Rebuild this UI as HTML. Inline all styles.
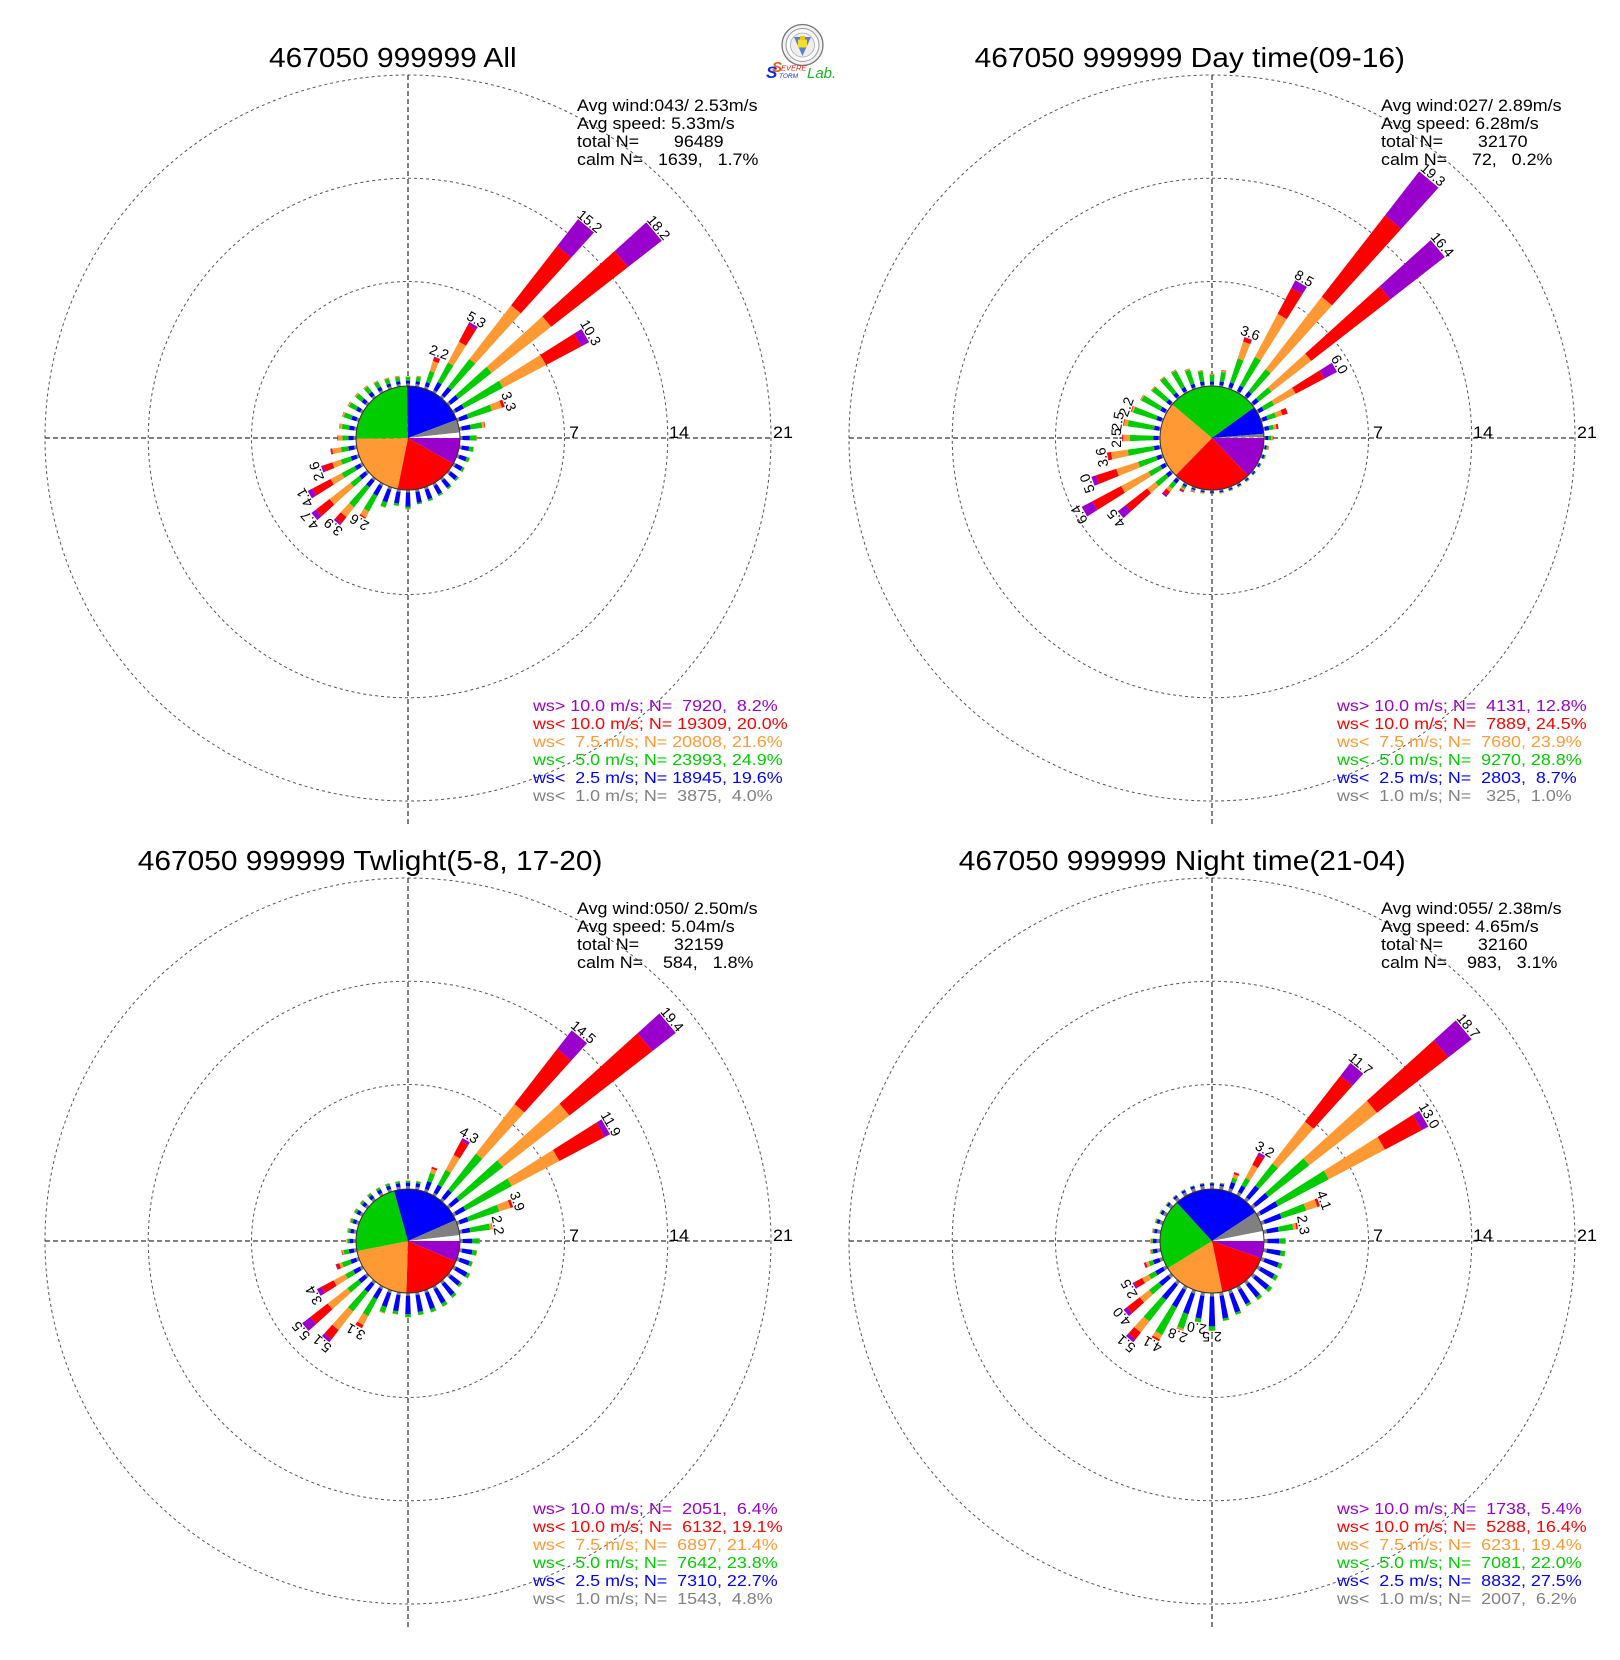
<!DOCTYPE html>
<html><head><meta charset="utf-8">
<style>
html,body{margin:0;padding:0;background:#fff;}
svg{display:block;font-family:"Liberation Sans",Arial,sans-serif;}
.lab{font-size:14px;text-anchor:middle;fill:#000;}
.ttl{font-size:28px;fill:#000;}
.st{font-size:16.8px;fill:#000;white-space:pre;}
.lg{font-size:15.5px;white-space:pre;}
.ax{font-size:16.8px;fill:#000;}
</style></head>
<body>
<svg id="s" width="1620" height="1660" viewBox="0 0 1620 1660" xmlns="http://www.w3.org/2000/svg">
<defs>
<g id="grid">
<circle cx="0" cy="0" r="156.5" fill="none" stroke="#555" stroke-width="1" stroke-dasharray="3,3"/>
<circle cx="0" cy="0" r="259.75" fill="none" stroke="#555" stroke-width="1" stroke-dasharray="3,3"/>
<circle cx="0" cy="0" r="363" fill="none" stroke="#555" stroke-width="1" stroke-dasharray="3,3"/>
<line x1="-363" y1="0" x2="363" y2="0" stroke="#000" stroke-width="1" stroke-dasharray="5,3"/>
<line x1="0" y1="-363" x2="0" y2="388" stroke="#000" stroke-width="1" stroke-dasharray="5,3"/>
</g>
</defs>
<rect width="1620" height="1660" fill="#fff"/>
<use href="#grid" x="408" y="438"/>
<use href="#grid" x="1212" y="438"/>
<use href="#grid" x="408" y="1241"/>
<use href="#grid" x="1212" y="1241"/>
<g id="bars"></g>
<g id="pies"></g>

<!-- Titles -->
<text class="ttl" transform="translate(269,67) scale(1.068,1)">467050 999999 All</text>
<text class="ttl" transform="translate(974.6,67) scale(1.068,1)">467050 999999 Day time(09-16)</text>
<text class="ttl" transform="translate(137.7,870) scale(1.068,1)">467050 999999 Twlight(5-8, 17-20)</text>
<text class="ttl" transform="translate(958.7,870) scale(1.068,1)">467050 999999 Night time(21-04)</text>

<!-- Logo -->
<g>
<circle cx="802.5" cy="45" r="20.5" fill="#f2f2f2" stroke="#777" stroke-width="1.3"/>
<circle cx="802.5" cy="45" r="16.5" fill="#fafafa" stroke="#999" stroke-width="1"/>
<circle cx="802.5" cy="45" r="12" fill="#eeeeee" stroke="#aaa" stroke-width=".8"/>
<polygon points="794,37 811,37 802.5,56" fill="#5a7fd0"/>
<rect x="798" y="39.5" width="9" height="8" fill="#f3de2a"/>
<rect x="800" y="36" width="5" height="4" fill="#e8c820"/>
</g>
<text x="766" y="78" font-size="17" font-style="italic" font-weight="bold" fill="#1030e0">S</text>
<text x="772" y="72" font-size="15" font-style="italic" font-weight="bold" fill="#f05a1a">S</text>
<text x="781" y="70.5" font-size="7.5" font-style="italic" fill="#e02010">EVERE</text>
<text x="779" y="78" font-size="6.5" font-style="italic" fill="#1030e0">TORM</text>
<text x="807" y="78" font-size="15" font-style="italic" fill="#20b020">Lab.</text>

<!-- Stats -->
<g>
<text class="st" transform="translate(577,111) scale(1.065,1)">Avg wind:043/ 2.53m/s</text>
<text class="st" transform="translate(577,129) scale(1.065,1)">Avg speed: 5.33m/s</text>
<text class="st" transform="translate(577,147) scale(1.065,1)">total N=       96489</text>
<text class="st" transform="translate(577,165) scale(1.065,1)">calm N=   1639,   1.7%</text>

<text class="st" transform="translate(1381,111) scale(1.065,1)">Avg wind:027/ 2.89m/s</text>
<text class="st" transform="translate(1381,129) scale(1.065,1)">Avg speed: 6.28m/s</text>
<text class="st" transform="translate(1381,147) scale(1.065,1)">total N=       32170</text>
<text class="st" transform="translate(1381,165) scale(1.065,1)">calm N=     72,   0.2%</text>

<text class="st" transform="translate(577,914) scale(1.065,1)">Avg wind:050/ 2.50m/s</text>
<text class="st" transform="translate(577,932) scale(1.065,1)">Avg speed: 5.04m/s</text>
<text class="st" transform="translate(577,950) scale(1.065,1)">total N=       32159</text>
<text class="st" transform="translate(577,968) scale(1.065,1)">calm N=    584,   1.8%</text>

<text class="st" transform="translate(1381,914) scale(1.065,1)">Avg wind:055/ 2.38m/s</text>
<text class="st" transform="translate(1381,932) scale(1.065,1)">Avg speed: 4.65m/s</text>
<text class="st" transform="translate(1381,950) scale(1.065,1)">total N=       32160</text>
<text class="st" transform="translate(1381,968) scale(1.065,1)">calm N=    983,   3.1%</text>
</g>

<!-- Axis labels -->
<g class="ax">
<text class="ax" transform="translate(569,438) scale(1.065,1)">7</text>
<text class="ax" transform="translate(669,438) scale(1.065,1)">14</text>
<text class="ax" transform="translate(773,438) scale(1.065,1)">21</text>
<text class="ax" transform="translate(1373,438) scale(1.065,1)">7</text>
<text class="ax" transform="translate(1473,438) scale(1.065,1)">14</text>
<text class="ax" transform="translate(1577,438) scale(1.065,1)">21</text>
<text class="ax" transform="translate(569,1241) scale(1.065,1)">7</text>
<text class="ax" transform="translate(669,1241) scale(1.065,1)">14</text>
<text class="ax" transform="translate(773,1241) scale(1.065,1)">21</text>
<text class="ax" transform="translate(1373,1241) scale(1.065,1)">7</text>
<text class="ax" transform="translate(1473,1241) scale(1.065,1)">14</text>
<text class="ax" transform="translate(1577,1241) scale(1.065,1)">21</text>
</g>

<!-- Legends -->
<g>
<text class="lg" fill="#9900cc" transform="translate(533,711) scale(1.155,1)">ws&gt; 10.0 m/s; N=  7920,  8.2%</text>
<text class="lg" fill="#ff0000" transform="translate(533,729) scale(1.155,1)">ws&lt; 10.0 m/s; N= 19309, 20.0%</text>
<text class="lg" fill="#ff9933" transform="translate(533,747) scale(1.155,1)">ws&lt;  7.5 m/s; N= 20808, 21.6%</text>
<text class="lg" fill="#00cc00" transform="translate(533,765) scale(1.155,1)">ws&lt;  5.0 m/s; N= 23993, 24.9%</text>
<text class="lg" fill="#0000ff" transform="translate(533,783) scale(1.155,1)">ws&lt;  2.5 m/s; N= 18945, 19.6%</text>
<text class="lg" fill="#808080" transform="translate(533,801) scale(1.155,1)">ws&lt;  1.0 m/s; N=  3875,  4.0%</text>

<text class="lg" fill="#9900cc" transform="translate(1337,711) scale(1.155,1)">ws&gt; 10.0 m/s; N=  4131, 12.8%</text>
<text class="lg" fill="#ff0000" transform="translate(1337,729) scale(1.155,1)">ws&lt; 10.0 m/s; N=  7889, 24.5%</text>
<text class="lg" fill="#ff9933" transform="translate(1337,747) scale(1.155,1)">ws&lt;  7.5 m/s; N=  7680, 23.9%</text>
<text class="lg" fill="#00cc00" transform="translate(1337,765) scale(1.155,1)">ws&lt;  5.0 m/s; N=  9270, 28.8%</text>
<text class="lg" fill="#0000ff" transform="translate(1337,783) scale(1.155,1)">ws&lt;  2.5 m/s; N=  2803,  8.7%</text>
<text class="lg" fill="#808080" transform="translate(1337,801) scale(1.155,1)">ws&lt;  1.0 m/s; N=   325,  1.0%</text>

<text class="lg" fill="#9900cc" transform="translate(533,1514) scale(1.155,1)">ws&gt; 10.0 m/s; N=  2051,  6.4%</text>
<text class="lg" fill="#ff0000" transform="translate(533,1532) scale(1.155,1)">ws&lt; 10.0 m/s; N=  6132, 19.1%</text>
<text class="lg" fill="#ff9933" transform="translate(533,1550) scale(1.155,1)">ws&lt;  7.5 m/s; N=  6897, 21.4%</text>
<text class="lg" fill="#00cc00" transform="translate(533,1568) scale(1.155,1)">ws&lt;  5.0 m/s; N=  7642, 23.8%</text>
<text class="lg" fill="#0000ff" transform="translate(533,1586) scale(1.155,1)">ws&lt;  2.5 m/s; N=  7310, 22.7%</text>
<text class="lg" fill="#808080" transform="translate(533,1604) scale(1.155,1)">ws&lt;  1.0 m/s; N=  1543,  4.8%</text>

<text class="lg" fill="#9900cc" transform="translate(1337,1514) scale(1.155,1)">ws&gt; 10.0 m/s; N=  1738,  5.4%</text>
<text class="lg" fill="#ff0000" transform="translate(1337,1532) scale(1.155,1)">ws&lt; 10.0 m/s; N=  5288, 16.4%</text>
<text class="lg" fill="#ff9933" transform="translate(1337,1550) scale(1.155,1)">ws&lt;  7.5 m/s; N=  6231, 19.4%</text>
<text class="lg" fill="#00cc00" transform="translate(1337,1568) scale(1.155,1)">ws&lt;  5.0 m/s; N=  7081, 22.0%</text>
<text class="lg" fill="#0000ff" transform="translate(1337,1586) scale(1.155,1)">ws&lt;  2.5 m/s; N=  8832, 27.5%</text>
<text class="lg" fill="#808080" transform="translate(1337,1604) scale(1.155,1)">ws&lt;  1.0 m/s; N=  2007,  6.2%</text>
</g>

<!-- Bar labels -->
<g class="lab">
<text class="lab" transform="translate(408,438) rotate(20) translate(0,-86.5)">2.2</text>
<text class="lab" transform="translate(408,438) rotate(30) translate(0,-132)">5.3</text>
<text class="lab" transform="translate(408,438) rotate(40) translate(0,-278)">15.2</text>
<text class="lab" transform="translate(408,438) rotate(50) translate(0,-322.5)">18.2</text>
<text class="lab" transform="translate(408,438) rotate(60) translate(0,-206)">10.3</text>
<text class="lab" transform="translate(408,438) rotate(70) translate(0,-102.5)">3.3</text>
<text class="lab" transform="translate(408,438) rotate(210) translate(0,-92.5)">2.6</text>
<text class="lab" transform="translate(408,438) rotate(220) translate(0,-111.5)">3.9</text>
<text class="lab" transform="translate(408,438) rotate(230) translate(0,-123.5)">4.7</text>
<text class="lab" transform="translate(408,438) rotate(240) translate(0,-114.5)">4.1</text>
<text class="lab" transform="translate(408,438) rotate(250) translate(0,-92.5)">2.6</text>

<text class="lab" transform="translate(1212,438) rotate(20) translate(0,-107)">3.6</text>
<text class="lab" transform="translate(1212,438) rotate(30) translate(0,-179.5)">8.5</text>
<text class="lab" transform="translate(1212,438) rotate(40) translate(0,-339)">19.3</text>
<text class="lab" transform="translate(1212,438) rotate(50) translate(0,-296)">16.4</text>
<text class="lab" transform="translate(1212,438) rotate(60) translate(0,-142.5)">6.0</text>
<text class="lab" transform="translate(1212,438) rotate(230) translate(0,-120.5)">4.5</text>
<text class="lab" transform="translate(1212,438) rotate(240) translate(0,-148.5)">6.4</text>
<text class="lab" transform="translate(1212,438) rotate(250) translate(0,-128)">5.0</text>
<text class="lab" transform="translate(1212,438) rotate(260) translate(0,-107)">3.6</text>
<text class="lab" transform="translate(1212,438) rotate(270) translate(0,-91)">2.5</text>
<text class="lab" transform="translate(1212,438) rotate(280) translate(0,-91)">2.5</text>
<text class="lab" transform="translate(1212,438) rotate(290) translate(0,-86.5)">2.2</text>

<text class="lab" transform="translate(408,1241) rotate(30) translate(0,-117.5)">4.3</text>
<text class="lab" transform="translate(408,1241) rotate(40) translate(0,-268)">14.5</text>
<text class="lab" transform="translate(408,1241) rotate(50) translate(0,-340)">19.4</text>
<text class="lab" transform="translate(408,1241) rotate(60) translate(0,-229.5)">11.9</text>
<text class="lab" transform="translate(408,1241) rotate(70) translate(0,-111.5)">3.9</text>
<text class="lab" transform="translate(408,1241) rotate(80) translate(0,-86.5)">2.2</text>
<text class="lab" transform="translate(408,1241) rotate(210) translate(0,-100)">3.1</text>
<text class="lab" transform="translate(408,1241) rotate(220) translate(0,-129)">5.1</text>
<text class="lab" transform="translate(408,1241) rotate(230) translate(0,-135)">5.5</text>
<text class="lab" transform="translate(408,1241) rotate(240) translate(0,-104)">3.4</text>

<text class="lab" transform="translate(1212,1241) rotate(30) translate(0,-101)">3.2</text>
<text class="lab" transform="translate(1212,1241) rotate(40) translate(0,-226.5)">11.7</text>
<text class="lab" transform="translate(1212,1241) rotate(50) translate(0,-330)">18.7</text>
<text class="lab" transform="translate(1212,1241) rotate(60) translate(0,-246)">13.0</text>
<text class="lab" transform="translate(1212,1241) rotate(70) translate(0,-114.5)">4.1</text>
<text class="lab" transform="translate(1212,1241) rotate(80) translate(0,-88)">2.3</text>
<text class="lab" transform="translate(1212,1241) rotate(180) translate(0,-91)">2.5</text>
<text class="lab" transform="translate(1212,1241) rotate(190) translate(0,-83.5)">2.0</text>
<text class="lab" transform="translate(1212,1241) rotate(200) translate(0,-95.5)">2.8</text>
<text class="lab" transform="translate(1212,1241) rotate(210) translate(0,-114.5)">4.1</text>
<text class="lab" transform="translate(1212,1241) rotate(220) translate(0,-129)">5.1</text>
<text class="lab" transform="translate(1212,1241) rotate(230) translate(0,-113)">4.0</text>
<text class="lab" transform="translate(1212,1241) rotate(240) translate(0,-91)">2.5</text>
</g>
</svg>
<script>
(function(){
var P=[[408,438],[1212,438],[408,1241],[1212,1241]];
var R0=53,K=14.75,H=2.15,PR=52;
var COL=['#808080','#0000ff','#00cc00','#ff9933','#ff0000','#9900cc'];
var D=[
[[.1,.2,.25,.05,0,0],[.1,.2,.3,.05,.02,0],[.1,.3,.8,.7,.25,.05],[.1,.6,1.5,1.6,1.3,.2],[.1,.7,2.4,4.6,5.1,2.3],[.1,.65,2.85,5.1,6.6,2.9],[.1,.6,3.0,3.3,2.7,.6],[.1,.6,1.7,.7,.2,0],[.1,.6,.8,.15,.05,0],[.1,.5,.45,.05,0,0],
 [.1,.5,.3,.03,0,0],[.1,.5,.2,.02,0,0],[.1,.5,.15,.02,0,0],[.1,.55,.12,0,0,0],[.1,.6,.12,0,0,0],[.1,.65,.12,0,0,0],[.1,.7,.12,0,0,0],[.1,.75,.1,0,0,0],[.1,.95,.15,.05,0,0],[.1,.8,.15,.03,0,0],
 [.1,.9,.35,.05,0,0],[.1,.75,1.2,.45,.1,0],[.1,.55,1.7,.85,.55,.15],[.1,.5,.75,1.8,1.15,.4],[.1,.4,1.0,.85,1.4,.35],[.1,.4,.7,.6,.65,.15],[.1,.4,.5,.6,.1,.03],[.1,.35,.4,.3,.05,0],[.1,.35,.5,.15,.03,0],[.1,.35,.55,.1,.02,0],
 [.1,.3,.55,.08,.02,0],[.1,.3,.5,.08,.02,0],[.1,.3,.45,.06,.02,0],[.1,.25,.4,.05,.02,0],[.1,.2,.35,.05,.02,0],[.1,.2,.3,.05,.02,0]],
[[.03,.2,.45,.07,.02,0],[.03,.25,.65,.1,.03,0],[.03,.35,1.7,1.2,.29,.03],[.03,.4,2.2,3.3,2.0,.57],[.03,.4,1.9,6.2,7.0,3.77],[.03,.4,1.1,3.4,6.8,4.67],[.03,.35,.8,1.65,2.2,.97],[.03,.35,.6,.45,.35,.03],[.03,.3,.3,.2,.12,.02],[.03,.2,.2,.1,.04,0],
 [.03,.12,.1,.05,.02,0],[.03,.12,.08,.03,0,0],[.03,.1,.06,.02,0,0],[.03,.1,.05,.02,0,0],[.03,.1,.05,.02,.01,0],[.03,.1,.05,.02,.01,0],[.03,.1,.05,.02,.01,0],[.03,.1,.05,.02,.01,0],[.03,.1,.05,.02,.01,0],[.03,.1,.06,.03,.01,0],
 [.03,.1,.07,.05,.03,.02],[.03,.15,.15,.1,.1,.06],[.03,.3,.45,.25,.3,.15],[.03,.35,.9,.7,1.82,.7],[.03,.35,.9,2.1,2.2,.82],[.03,.35,1.3,1.55,1.45,.32],[.03,.35,1.8,1.15,.25,.02],[.03,.35,1.6,.45,.06,.01],[.03,.35,1.8,.27,.05,0],[.03,.35,1.65,.12,.05,0],
 [.03,.35,1.45,.07,.02,0],[.03,.3,1.25,.05,.02,0],[.03,.3,1.3,.05,.02,0],[.03,.3,1.25,.07,.02,0],[.03,.25,1.0,.07,.02,0],[.03,.25,.7,.05,.02,0]],
[[.12,.25,.12,.03,0,0],[.12,.25,.13,.03,0,0],[.12,.55,.6,.3,.12,.01],[.12,.6,1.15,1.15,1.08,.2],[.12,.7,3.1,4.25,4.73,1.6],[.12,.7,3.75,5.7,7.13,2.0],[.12,.7,3.55,3.65,3.48,.4],[.12,.6,2.2,.8,.18,0],[.12,.55,1.35,.15,.03,0],[.12,.65,.45,.05,.02,0],
 [.12,.7,.3,.03,0,0],[.12,.7,.2,.02,0,0],[.12,.85,.2,.02,0,0],[.12,.8,.15,.02,0,0],[.12,1.0,.18,.02,0,0],[.12,1.1,.22,.03,0,0],[.12,1.15,.22,.03,0,0],[.12,1.15,.2,.03,0,0],[.12,1.25,.2,.03,0,0],[.12,1.1,.2,.03,0,0],
 [.12,1.0,.4,.05,.01,0],[.12,.75,1.3,.7,.23,0],[.12,.7,1.65,1.6,.78,.25],[.12,.55,.95,1.7,1.48,.7],[.12,.5,.6,.9,.93,.35],[.12,.4,.6,.2,.2,.05],[.12,.35,.35,.1,.05,0],[.12,.25,.15,.05,.01,0],[.12,.25,.15,.05,.01,0],[.12,.25,.15,.05,.01,0],
 [.12,.25,.15,.04,.01,0],[.12,.25,.15,.04,.01,0],[.12,.25,.15,.04,.01,0],[.12,.25,.15,.03,0,0],[.12,.25,.15,.03,0,0],[.12,.25,.13,.03,0,0]],
[[.17,.15,.05,.02,0,0],[.17,.15,.05,.02,.01,0],[.17,.45,.3,.25,.12,.03],[.17,.5,.6,.98,.75,.2],[.17,1.0,1.9,3.6,3.93,1.1],[.17,1.1,3.5,5.8,6.13,2.0],[.17,1.3,3.9,4.3,2.83,.5],[.17,1.2,1.75,.8,.18,0],[.17,.8,1.0,.22,.1,.01],[.17,.8,.4,.05,.01,0],
 [.17,.95,.3,.03,0,0],[.17,1.0,.25,.03,0,0],[.17,1.05,.25,.03,0,0],[.17,1.15,.25,.03,0,0],[.17,1.1,.2,.03,0,0],[.17,1.1,.15,.02,0,0],[.17,1.35,.15,.02,0,0],[.17,1.55,.15,.02,0,0],[.17,2.03,.28,.02,0,0],[.17,1.55,.26,.02,0,0],
 [.17,1.45,1.05,.1,.03,0],[.17,1.35,2.1,.35,.13,0],[.17,1.3,1.85,.95,.58,.25],[.17,.8,.85,.8,1.08,.3],[.17,.6,.5,.5,.6,.13],[.17,.45,.3,.2,.12,.03],[.17,.3,.13,.05,.01,0],[.17,.25,.12,.05,.01,0],[.17,.2,.1,.04,.01,0],[.17,.2,.08,.03,.01,0],
 [.17,.18,.07,.03,.01,0],[.17,.15,.05,.02,.01,0],[.17,.15,.05,.02,.01,0],[.17,.15,.05,.02,0,0],[.17,.15,.05,.02,0,0],[.17,.15,.05,.02,0,0]]
];
var PIE=[[8.2,20.0,21.6,24.9,19.6,4.0,1.7],[12.8,24.5,23.9,28.8,8.7,1.0,0.2],[6.4,19.1,21.4,23.8,22.7,4.8,1.8],[5.4,16.4,19.4,22.0,27.5,6.2,3.1]];
var PCOL=['#9900cc','#ff0000','#ff9933','#00cc00','#0000ff','#808080','#ffffff'];
function pt(cx,cy,d,r){var a=d*Math.PI/180;return (cx+r*Math.sin(a)).toFixed(2)+','+(cy-r*Math.cos(a)).toFixed(2);}
var s='';
for(var p=0;p<4;p++){
  var cx=P[p][0],cy=P[p][1];
  for(var i=0;i<36;i++){
    var d=i*10,cum=0;
    for(var j=0;j<6;j++){
      var v=D[p][i][j]; if(v<=0) continue;
      var r1=R0+K*cum; if(j===0) r1=PR-2; cum+=v; var r2=R0+K*cum;
      s+='<polygon fill="'+COL[j]+'" points="'+pt(cx,cy,d-H,r1)+' '+pt(cx,cy,d-H,r2)+' '+pt(cx,cy,d+H,r2)+' '+pt(cx,cy,d+H,r1)+'"/>';
    }
  }
}
document.getElementById('bars').innerHTML=s;
var q='';
for(var p=0;p<4;p++){
  var cx=P[p][0],cy=P[p][1],t=0;
  for(var k=0;k<7;k++){
    var span=PIE[p][k]/100*360; if(span<=0) continue;
    var a1=t*Math.PI/180,a2=(t+span)*Math.PI/180;
    var x1=cx+PR*Math.cos(a1),y1=cy+PR*Math.sin(a1),x2=cx+PR*Math.cos(a2),y2=cy+PR*Math.sin(a2);
    q+='<path fill="'+PCOL[k]+'" d="M'+cx+' '+cy+' L'+x1.toFixed(2)+' '+y1.toFixed(2)+' A'+PR+' '+PR+' 0 '+(span>180?1:0)+' 1 '+x2.toFixed(2)+' '+y2.toFixed(2)+' Z"/>';
    t+=span;
  }
  q+='<circle cx="'+cx+'" cy="'+cy+'" r="'+PR+'" fill="none" stroke="#333" stroke-width="1"/>';
}
document.getElementById('pies').innerHTML=q;
})();
</script>
</body></html>
